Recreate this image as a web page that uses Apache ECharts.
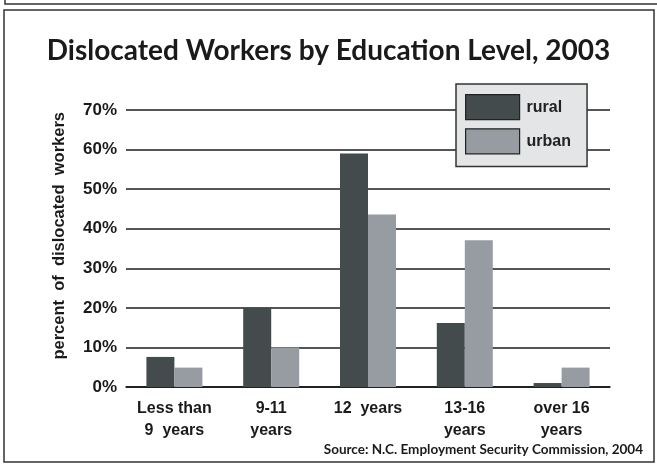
<!DOCTYPE html>
<html>
<head>
<meta charset="utf-8">
<script src="https://cdn.jsdelivr.net/npm/echarts@6/dist/echarts.min.js"></script>
<style>
  html, body { margin: 0; padding: 0; background: #fff; }
  #chart { width: 657px; height: 465px; }
</style>
</head>
<body>
<div id="chart"></div>
<script>
// Education levels along the x axis
const categories = ['Less than\n9  years', '9-11\nyears', '12  years', '13-16\nyears', 'over 16\nyears'];
// Share of dislocated workers (%) by area
const ruralValues = [7.6, 20, 59, 16.2, 1];
const urbanValues = [4.9, 10, 43.6, 37.1, 4.9];
// Y axis ticks
const yTicks = [0, 10, 20, 30, 40, 50, 60, 70];

const chart = echarts.init(document.getElementById('chart'), null, { renderer: 'canvas' });

const labelFont = '"Liberation Sans Narrow", "Liberation Sans", Arial, sans-serif';

chart.setOption({
  animation: false,
  backgroundColor: '#ffffff',
  title: {
    text: 'Dislocated Workers by Education Level, 2003',
    left: 'center',
    top: 32,
    textStyle: {
      fontFamily: 'Lato, "Open Sans", sans-serif',
      fontWeight: 'bold',
      fontSize: 28,
      color: '#1a1a1a'
    }
  },
  legend: {
    data: ['rural', 'urban'],
    orient: 'vertical',
    left: 456,
    top: 84,
    width: 130,
    padding: [10, 16, 12, 9],
    itemWidth: 54,
    itemHeight: 25,
    itemGap: 8,
    icon: 'rect',
    backgroundColor: '#e4e5e7',
    borderColor: '#333',
    borderWidth: 1.5,
    borderRadius: 0,
    itemStyle: { borderColor: '#222', borderWidth: 1.2 },
    textStyle: {
      fontFamily: labelFont,
      fontWeight: 'bold',
      fontSize: 16,
      color: '#222',
      padding: [0, 0, 0, 2]
    }
  },
  grid: {
    left: 126,
    right: 47,
    top: 110,
    bottom: 78,
    containLabel: false
  },
  xAxis: {
    type: 'category',
    data: categories,
    axisTick: { show: false },
    axisLine: { show: true, lineStyle: { color: '#111', width: 1.5 } },
    axisLabel: {
      interval: 0,
      margin: 11,
      fontFamily: labelFont,
      fontWeight: 'bold',
      fontSize: 16,
      lineHeight: 22,
      color: '#1a1a1a'
    }
  },
  yAxis: {
    type: 'value',
    min: 0,
    max: 70,
    interval: 10,
    axisLine: { show: false },
    axisTick: { show: false },
    splitLine: { show: true, lineStyle: { color: '#555', width: 2 } },
    axisLabel: {
      margin: 9,
      fontFamily: labelFont,
      fontWeight: 'bold',
      fontSize: 17,
      color: '#1a1a1a',
      padding: [0, 0, 8, 0],
      formatter: function (v) { return yTicks.indexOf(v) >= 0 ? v + '%' : ''; }
    }
  },
  series: [
    {
      name: 'rural',
      type: 'bar',
      data: ruralValues,
      barWidth: 28,
      barGap: '0%',
      itemStyle: { color: '#444b4c' }
    },
    {
      name: 'urban',
      type: 'bar',
      data: urbanValues,
      barWidth: 28,
      itemStyle: { color: '#969ca2' }
    }
  ],
  graphic: [
    // outer page frame
    { type: 'polyline', shape: { points: [[5, 0], [5, 4], [657, 4]] }, style: { stroke: '#333', lineWidth: 1.5, fill: null } },
    { type: 'rect', shape: { x: 4, y: 10, width: 650, height: 452 }, style: { stroke: '#333', lineWidth: 1.5, fill: null }, z: -1 },
    {
      type: 'text',
      left: 51,
      top: 112,
      rotation: Math.PI / 2,
      style: {
        text: 'percent  of  dislocated  workers',
        fontFamily: labelFont,
        fontWeight: 'bold',
        fontSize: 16.5,
        fill: '#1a1a1a'
      }
    },
    {
      type: 'text',
      right: 14,
      top: 443,
      style: {
        text: 'Source: N.C. Employment Security Commission, 2004',
        fontFamily: 'Lato, "Open Sans", sans-serif',
        fontWeight: 'bold',
        fontSize: 13.5,
        fill: '#1a1a1a'
      }
    }
  ]
});
</script>
</body>
</html>
